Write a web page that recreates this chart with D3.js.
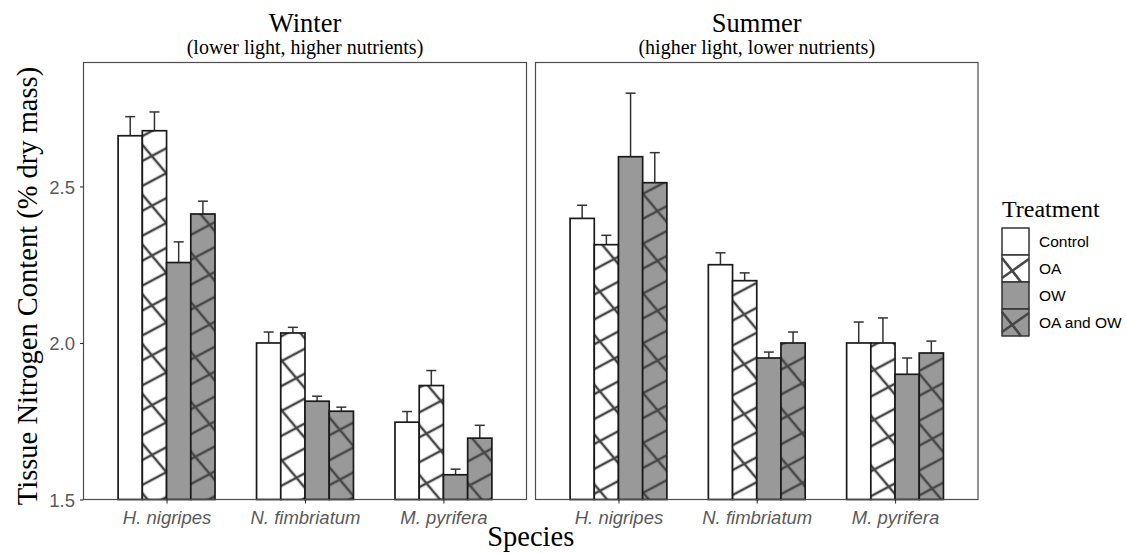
<!DOCTYPE html>
<html>
<head>
<meta charset="utf-8">
<script src="https://cdn.jsdelivr.net/npm/d3@7"></script>
<style>
  body { margin: 0; background: #fff; }
  svg { display: block; }
</style>
</head>
<body>
<div id="chart"></div>
<script>
// chart values
var species = ["H. nigripes", "N. fimbriatum", "M. pyrifera"];
var treatments = ["Control", "OA", "OW", "OA and OW"];
var seasons = ["Winter", "Summer"];
var subtitles = ["(lower light, higher nutrients)", "(higher light, lower nutrients)"];

// rows = species, columns = treatments
var winterMean = [[2.662, 2.678, 2.257, 2.412],
                  [2.000, 2.032, 1.814, 1.782],
                  [1.747, 1.864, 1.579, 1.696]];
var winterSE   = [[0.061, 0.060, 0.066, 0.041],
                  [0.035, 0.018, 0.016, 0.013],
                  [0.034, 0.048, 0.018, 0.041]];
var summerMean = [[2.398, 2.314, 2.595, 2.512],
                  [2.250, 2.199, 1.952, 2.000],
                  [2.000, 2.000, 1.900, 1.968]];
var summerSE   = [[0.042, 0.030, 0.203, 0.096],
                  [0.038, 0.025, 0.019, 0.035],
                  [0.067, 0.080, 0.052, 0.038]];
var yTicks = [1.5, 2.0, 2.5];

var means = [winterMean, summerMean];
var ses = [winterSE, summerSE];

var width = 1126, height = 554;
var panelTop = 62.5, panelBottom = 499.5;
var panels = [[83.5, 526.5], [535.5, 978]];

var svg = d3.select("#chart").append("svg")
    .attr("width", width)
    .attr("height", height);

var defs = svg.append("defs");

// one family of stripes per pattern, two overlaid give the crosshatch
function stripes(id, angle, spacing, colour) {
    var p = defs.append("pattern")
        .attr("id", id)
        .attr("patternUnits", "userSpaceOnUse")
        .attr("width", 200)
        .attr("height", spacing)
        .attr("patternTransform", "rotate(" + angle + ")");
    p.append("line")
        .attr("x1", 0).attr("x2", 200)
        .attr("y1", spacing / 2).attr("y2", spacing / 2)
        .attr("stroke", colour)
        .attr("stroke-width", 2.6);
}
stripes("rise", -28, 22, "#474747");
stripes("fall", 50, 32, "#474747");

var fills = {"Control": "#ffffff", "OA": "#ffffff", "OW": "#999999", "OA and OW": "#999999"};
var hatched = {"Control": false, "OA": true, "OW": false, "OA and OW": true};

var y = d3.scaleLinear()
    .domain([1.5, 2.896])
    .range([panelBottom, panelTop]);

seasons.forEach(function (season, si) {
    var x = d3.scalePoint()
        .domain(species)
        .range(panels[si])
        .padding(0.6);
    var step = x.step();
    var dodge = d3.scaleBand()
        .domain(treatments)
        .range([-0.35 * step, 0.35 * step]);

    var rows = [];
    species.forEach(function (sp, i) {
        treatments.forEach(function (tr, j) {
            rows.push({species: sp, treatment: tr, mean: means[si][i][j], se: ses[si][i][j]});
        });
    });

    var g = svg.append("g");

    // error bars (upper only)
    var eb = g.selectAll(".err")
        .data(rows)
        .enter().append("g")
        .attr("class", "err");
    eb.append("line")
        .attr("x1", function (d) { return x(d.species) + dodge(d.treatment) + dodge.bandwidth() / 2; })
        .attr("x2", function (d) { return x(d.species) + dodge(d.treatment) + dodge.bandwidth() / 2; })
        .attr("y1", function (d) { return y(d.mean); })
        .attr("y2", function (d) { return y(d.mean + d.se); })
        .attr("stroke", "#333").attr("stroke-width", 1.5);
    eb.append("line")
        .attr("x1", function (d) { return x(d.species) + dodge(d.treatment) + dodge.bandwidth() / 2 - 5; })
        .attr("x2", function (d) { return x(d.species) + dodge(d.treatment) + dodge.bandwidth() / 2 + 5; })
        .attr("y1", function (d) { return y(d.mean + d.se); })
        .attr("y2", function (d) { return y(d.mean + d.se); })
        .attr("stroke", "#333").attr("stroke-width", 1.5);

    // bars
    var bar = g.selectAll(".bar")
        .data(rows)
        .enter().append("g")
        .attr("class", "bar");
    function barRect(sel) {
        return sel.attr("x", function (d) { return x(d.species) + dodge(d.treatment); })
            .attr("y", function (d) { return y(d.mean); })
            .attr("width", dodge.bandwidth())
            .attr("height", function (d) { return y(1.5) - y(d.mean); });
    }
    barRect(bar.append("rect")).attr("fill", function (d) { return fills[d.treatment]; });
    barRect(bar.filter(function (d) { return hatched[d.treatment]; }).append("rect"))
        .attr("fill", "url(#rise)");
    barRect(bar.filter(function (d) { return hatched[d.treatment]; }).append("rect"))
        .attr("fill", "url(#fall)");
    barRect(bar.append("rect"))
        .attr("fill", "none")
        .attr("stroke", "#1a1a1a")
        .attr("stroke-width", 1.7);

    // panel border
    g.append("rect")
        .attr("x", panels[si][0]).attr("y", panelTop)
        .attr("width", panels[si][1] - panels[si][0])
        .attr("height", panelBottom - panelTop)
        .attr("fill", "none")
        .attr("stroke", "#4d4d4d")
        .attr("stroke-width", 1.2);

    // x axis
    var xAxis = g.append("g")
        .attr("transform", "translate(0," + panelBottom + ")")
        .call(d3.axisBottom(x).tickSize(4).tickPadding(7));
    xAxis.select(".domain").remove();
    xAxis.selectAll(".tick line").attr("stroke", "#333").attr("stroke-width", 1.1);
    xAxis.selectAll("text")
        .attr("fill", "#5a5a5a")
        .style("font-family", "'Liberation Sans', Arial, sans-serif")
        .style("font-style", "italic")
        .style("font-size", "18.5px");

    // titles
    var cx = (panels[si][0] + panels[si][1]) / 2;
    svg.append("text")
        .attr("x", cx).attr("y", 32)
        .attr("text-anchor", "middle")
        .style("font-family", "'Liberation Serif', 'Times New Roman', serif")
        .style("font-size", "26.5px")
        .text(season);
    svg.append("text")
        .attr("x", cx).attr("y", 54)
        .attr("text-anchor", "middle")
        .style("font-family", "'Liberation Serif', 'Times New Roman', serif")
        .style("font-size", "20px")
        .text(subtitles[si]);
});

// y axis
var yAxis = svg.append("g")
    .attr("transform", "translate(" + panels[0][0] + ",0)")
    .call(d3.axisLeft(y).tickValues(yTicks).tickFormat(d3.format(".1f")).tickSize(3.5).tickPadding(5));
yAxis.select(".domain").remove();
yAxis.selectAll(".tick line").attr("stroke", "#333").attr("stroke-width", 1.1);
yAxis.selectAll("text")
    .attr("fill", "#5a5a5a")
    .attr("dy", "0.36em")
    .style("font-family", "'Liberation Sans', Arial, sans-serif")
    .style("font-size", "18.5px");

// axis titles
svg.append("text")
    .attr("transform", "translate(37," + 286 + ") rotate(-90)")
    .attr("text-anchor", "middle")
    .style("font-family", "'Liberation Serif', 'Times New Roman', serif")
    .style("font-size", "28.5px")
    .text("Tissue Nitrogen Content (% dry mass)");
svg.append("text")
    .attr("x", (panels[0][0] + panels[1][1]) / 2).attr("y", 546)
    .attr("text-anchor", "middle")
    .style("font-family", "'Liberation Serif', 'Times New Roman', serif")
    .style("font-size", "28.5px")
    .text("Species");

// legend
var legend = svg.append("g").attr("transform", "translate(1002,228)");
legend.append("text")
    .attr("x", 0).attr("y", -11)
    .style("font-family", "'Liberation Serif', 'Times New Roman', serif")
    .style("font-size", "24px")
    .text("Treatment");
var keySize = 27;
var keys = legend.selectAll(".key")
    .data(treatments)
    .enter().append("g")
    .attr("class", "key")
    .attr("transform", function (d, i) { return "translate(0," + i * keySize + ")"; });
keys.append("rect")
    .attr("width", keySize).attr("height", keySize)
    .attr("fill", function (d) { return fills[d]; })
    .attr("stroke", "#333").attr("stroke-width", 1);
var hk = keys.filter(function (d) { return hatched[d]; });
hk.append("line")
    .attr("x1", 0).attr("y1", 3).attr("x2", 19).attr("y2", keySize)
    .attr("stroke", "#474747").attr("stroke-width", 2.6);
hk.append("line")
    .attr("x1", 0).attr("y1", 23).attr("x2", keySize).attr("y2", 4)
    .attr("stroke", "#474747").attr("stroke-width", 2.6);
keys.append("rect")
    .attr("width", keySize).attr("height", keySize)
    .attr("fill", "none")
    .attr("stroke", "#333").attr("stroke-width", 1);
keys.append("text")
    .attr("x", 37).attr("y", keySize / 2)
    .attr("dy", "0.36em")
    .style("font-family", "'Liberation Sans', Arial, sans-serif")
    .style("font-size", "15.5px")
    .text(function (d) { return d; });
</script>
</body>
</html>
